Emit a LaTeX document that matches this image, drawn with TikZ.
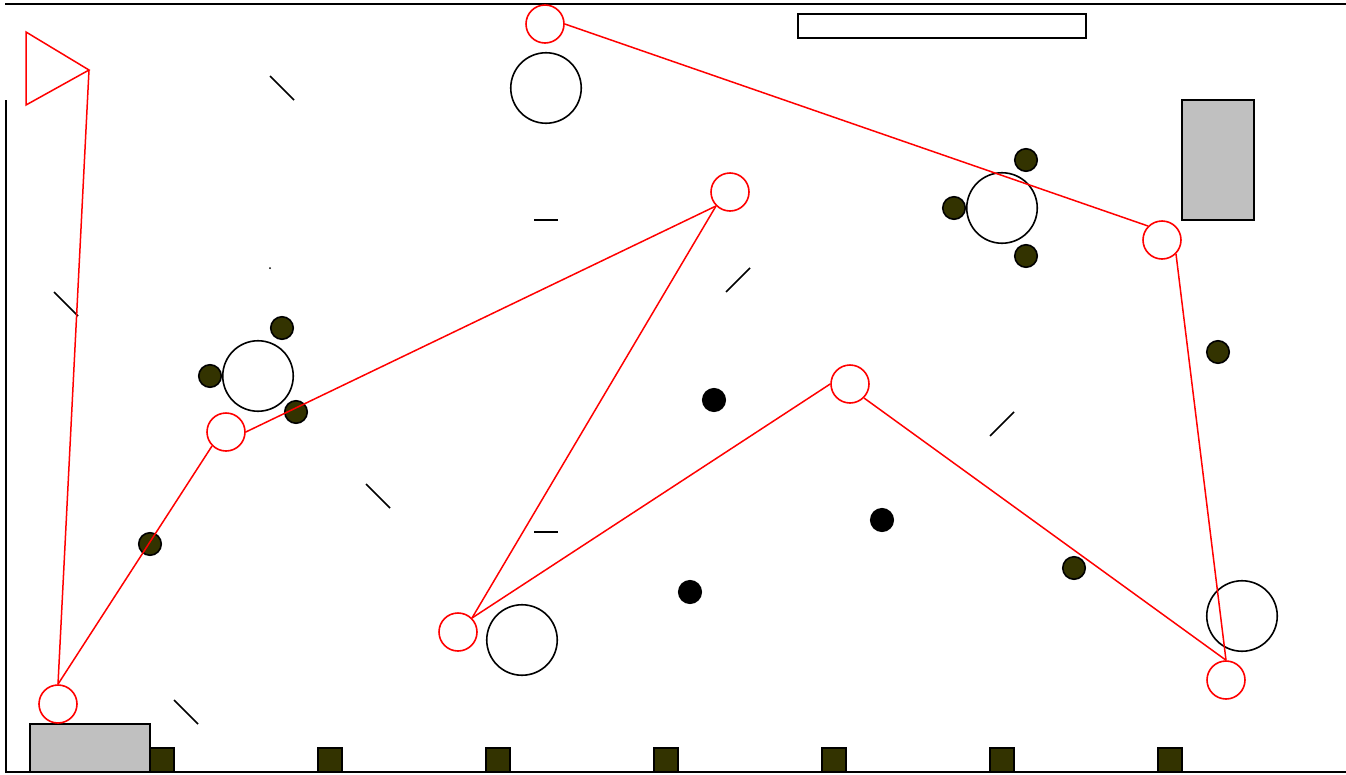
\documentclass[tikz,border=0pt]{standalone}
\begin{document}
\begin{tikzpicture}[x=1pt,y=-1pt,
  redc/.style={circle,draw=red,line width=1.6pt,minimum size=38pt,inner sep=0pt},
  bigc/.style={circle,draw=black,line width=1.6pt,minimum size=70.5pt,inner sep=0pt},
  olive/.style={circle,draw=black,fill=olivec,line width=1.6pt,minimum size=22.5pt,inner sep=0pt},
  blk/.style={circle,fill=black,draw=black,line width=1.6pt,minimum size=22.5pt,inner sep=0pt},
  sq/.style={draw=black,fill=olivec,line width=1.6pt},
  grayb/.style={draw=black,fill=graybox,line width=1.6pt},
  seg/.style={draw=black,line width=1.6pt},
  redl/.style={draw=red,line width=1.5pt}]
\definecolor{olivec}{RGB}{51,51,0}
\definecolor{graybox}{RGB}{192,192,192}
\useasboundingbox (0,0) rectangle (1346,774);
% frame lines
\draw[seg] (5,4) -- (1346,4);
\draw[seg] (6,100) -- (6,772) -- (1346,772);
% top white bar
\draw[seg] (798,14) rectangle (1086,38);
% gray boxes
\draw[grayb] (1182,100) rectangle (1254,220);
\draw[grayb] (30,724) rectangle (150,772);
% olive squares
\foreach \x in {150,318,486,654,822,990,1158}
  \draw[sq] (\x,748) rectangle ++(24,24);
% short segments
\draw[seg] (270,76) -- (294,100);
\draw[seg] (54,292) -- (78,316);
\draw[seg] (534,220) -- (558,220);
\draw[seg] (726,292) -- (750,268);
\draw[seg] (366,484) -- (390,508);
\draw[seg] (534,532) -- (558,532);
\draw[seg] (990,436) -- (1014,412);
\draw[seg] (174,700) -- (198,724);
\fill (270,268) circle (1pt);
% big black circles
\node[bigc] (b1) at (546,88) {};
\node[bigc] (b2) at (258,376) {};
\node[bigc] (b3) at (1002,208) {};
\node[bigc] (b4) at (522,640) {};
\node[bigc] (b5) at (1242,616) {};
% olive dots
\node[olive] (o1) at (282,328) {};
\node[olive] (o2) at (210,376) {};
\node[olive] (o3) at (296,412) {};
\node[olive] (o4) at (1026,160) {};
\node[olive] (o5) at (954,208) {};
\node[olive] (o6) at (1026,256) {};
\node[olive] (o7) at (150,544) {};
\node[olive] (o8) at (1218,352) {};
\node[olive] (o9) at (1074,568) {};
% black dots
\node[blk] (k1) at (714,400) {};
\node[blk] (k2) at (882,520) {};
\node[blk] (k3) at (690,592) {};
% red triangle
\coordinate (t1) at (26,32);
\coordinate (t2) at (26,105);
\coordinate (tip) at (89,70);
\draw[redl,line join=miter] (t1) -- (tip) -- (t2) -- cycle;
% red circles
\node[redc] (r1) at (545,24) {};
\node[redc] (r2) at (730,192) {};
\node[redc] (r3) at (1162,240) {};
\node[redc] (r4) at (850,384) {};
\node[redc] (r5) at (226,432) {};
\node[redc] (r6) at (458,632) {};
\node[redc] (r7) at (1226,680) {};
\node[redc] (r8) at (58,704) {};
% red connectors
\draw[redl] (tip) -- (r8.north);
\draw[redl] (r8.north) -- (r5.south west);
\draw[redl] (r5.east) -- (r2.south west);
\draw[redl] (r2.south west) -- (r6.north east);
\draw[redl] (r6.north east) -- (r4.west);
\draw[redl] (r4.south east) -- (r7.north);
\draw[redl] (r7.north) -- (r3.south east);
\draw[redl] (r3.north west) -- (r1.east);
\end{tikzpicture}
\end{document}
